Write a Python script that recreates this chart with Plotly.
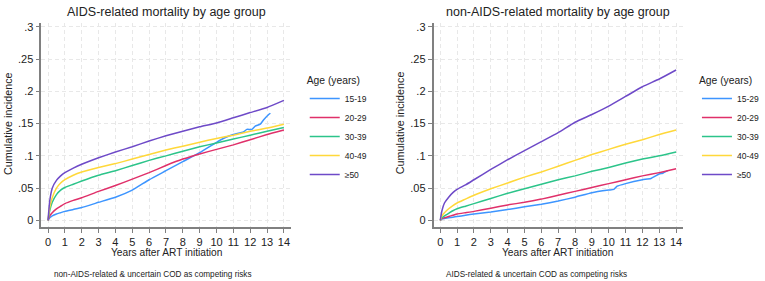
import plotly.graph_objects as go

# ---------------- data ----------------
age_left = ["15-19", "20-29", "30-39", "40-49", "≥50"]
age_right = ["15-29", "20-29", "30-39", "40-49", "≥50"]

years_std = [0, 0.1, 0.25, 0.5, 0.75, 1, 1.5, 2, 3, 4, 5, 6, 7, 8, 9, 10, 11, 12, 13, 14]

# AIDS-related mortality (left)
years_l_1519 = [0, 0.1, 0.25, 0.5, 0.75, 1, 1.5, 2, 3, 4, 5, 6, 7, 8, 9, 10, 10.5, 11,
                11.6, 11.8, 12.1, 12.3, 12.6, 12.8, 13.1, 13.2]
cif_l_1519 = [0, 0.004, 0.007, 0.010, 0.012, 0.014, 0.017, 0.020, 0.028, 0.036, 0.047,
              0.063, 0.077, 0.091, 0.105, 0.121, 0.128, 0.133, 0.137, 0.141, 0.141,
              0.146, 0.149, 0.156, 0.164, 0.166]
cif_l_2029 = [0, 0.007, 0.012, 0.018, 0.022, 0.026, 0.031, 0.035, 0.045, 0.054, 0.064,
              0.074, 0.085, 0.095, 0.103, 0.110, 0.117, 0.125, 0.133, 0.140]
cif_l_3039 = [0, 0.015, 0.028, 0.040, 0.047, 0.051, 0.056, 0.061, 0.070, 0.077, 0.085,
              0.093, 0.100, 0.107, 0.114, 0.120, 0.126, 0.132, 0.138, 0.144]
cif_l_4049 = [0, 0.020, 0.035, 0.050, 0.058, 0.063, 0.070, 0.075, 0.082, 0.088, 0.095,
              0.102, 0.109, 0.115, 0.121, 0.127, 0.132, 0.138, 0.143, 0.149]
cif_l_50 = [0, 0.030, 0.050, 0.062, 0.069, 0.074, 0.081, 0.087, 0.097, 0.106, 0.114,
            0.123, 0.131, 0.138, 0.145, 0.151, 0.159, 0.167, 0.175, 0.186]

# non-AIDS-related mortality (right)
years_r_1529 = [0, 0.1, 0.25, 0.5, 0.75, 1, 1.5, 2, 3, 4, 5, 6, 7, 8, 9, 10, 10.3, 10.5,
                11, 12, 12.5, 13, 13.2, 13.5]
cif_r_1529 = [0, 0.002, 0.003, 0.004, 0.005, 0.006, 0.008, 0.010, 0.013, 0.017, 0.021,
              0.025, 0.030, 0.036, 0.043, 0.047, 0.048, 0.053, 0.057, 0.063, 0.065,
              0.072, 0.073, 0.077]
cif_r_2029 = [0, 0.003, 0.004, 0.006, 0.008, 0.010, 0.012, 0.014, 0.019, 0.024, 0.028,
              0.033, 0.039, 0.045, 0.051, 0.057, 0.063, 0.069, 0.074, 0.080]
cif_r_3039 = [0, 0.004, 0.007, 0.011, 0.015, 0.018, 0.022, 0.026, 0.034, 0.042, 0.049,
              0.056, 0.063, 0.069, 0.076, 0.082, 0.089, 0.095, 0.100, 0.106]
cif_r_4049 = [0, 0.007, 0.012, 0.018, 0.023, 0.027, 0.033, 0.039, 0.049, 0.058, 0.067,
              0.075, 0.084, 0.093, 0.102, 0.110, 0.118, 0.125, 0.133, 0.140]
cif_r_50 = [0, 0.015, 0.027, 0.036, 0.043, 0.048, 0.055, 0.063, 0.079, 0.094, 0.108,
            0.122, 0.136, 0.152, 0.164, 0.177, 0.192, 0.207, 0.219, 0.233]

x_ticks = list(range(0, 15))
y_tickvals = [0, 0.05, 0.1, 0.15, 0.2, 0.25, 0.3]
y_ticktext = ["0", ".05", ".1", ".15", ".2", ".25", ".3"]

titles = ["AIDS-related mortality by age group", "non-AIDS-related mortality by age group"]
captions = ["non-AIDS-related & uncertain COD as competing risks",
            "AIDS-related & uncertain COD as competing risks"]
x_title = "Years after ART initiation"
y_title = "Cumulative incidence"
legend_title = "Age (years)"

colors = ["#3d95ff", "#e0306a", "#2cc48a", "#ffd83a", "#6e4ac8"]

FONT = "Liberation Sans, Arial, Helvetica, sans-serif"

left_series = [(years_l_1519, cif_l_1519), (years_std, cif_l_2029), (years_std, cif_l_3039),
               (years_std, cif_l_4049), (years_std, cif_l_50)]
right_series = [(years_r_1529, cif_r_1529), (years_std, cif_r_2029), (years_std, cif_r_3039),
                (years_std, cif_r_4049), (years_std, cif_r_50)]

fig = go.Figure()
for i, (xs, ys) in enumerate(left_series):
    fig.add_trace(go.Scatter(x=xs, y=ys, mode="lines", name=age_left[i],
                             line=dict(color=colors[i], width=1.5, shape="spline", smoothing=0.4),
                             xaxis="x", yaxis="y", legend="legend"))
for i, (xs, ys) in enumerate(right_series):
    fig.add_trace(go.Scatter(x=xs, y=ys, mode="lines", name=age_right[i],
                             line=dict(color=colors[i], width=1.5, shape="spline", smoothing=0.4),
                             xaxis="x2", yaxis="y2", legend="legend2"))

W, H = 765, 281
x_range = [-0.4, 14.42]
y_range = [-0.0108, 0.306]

axis_common = dict(showline=True, linecolor="#808080", linewidth=1.5,
                   ticks="outside", ticklen=4, tickwidth=1, tickcolor="#808080",
                   showgrid=True, gridcolor="#e8e8e8", gridwidth=1, griddash="4px,3px",
                   zeroline=False, tickfont=dict(family=FONT, size=11, color="#222"))

dom_l = [42 / W, 296 / W]
dom_r = [441 / W, 695 / W]
dom_y = [1 - 227 / H, 1 - 21 / H]

fig.update_layout(
    width=W, height=H, margin=dict(l=0, r=0, t=0, b=0),
    paper_bgcolor="white", plot_bgcolor="white",
    font=dict(family=FONT, color="#222"),
    xaxis=dict(domain=dom_l, range=x_range, tickvals=x_ticks, anchor="y", **axis_common),
    yaxis=dict(domain=dom_y, range=y_range, tickvals=y_tickvals, ticktext=y_ticktext,
               anchor="x", **axis_common),
    xaxis2=dict(domain=dom_r, range=x_range, tickvals=x_ticks, anchor="y2", **axis_common),
    yaxis2=dict(domain=dom_y, range=y_range, tickvals=y_tickvals, ticktext=y_ticktext,
                anchor="x2", **axis_common),
    legend=dict(x=310 / W, y=1 - 69 / H, xanchor="left", yanchor="top",
                title=dict(text=legend_title, font=dict(size=10.3)),
                font=dict(size=8.5), bgcolor="rgba(0,0,0,0)", itemwidth=30,
                tracegroupgap=0),
    legend2=dict(x=709 / W, y=1 - 69 / H, xanchor="left", yanchor="top",
                 title=dict(text=legend_title, font=dict(size=10.3)),
                 font=dict(size=8.5), bgcolor="rgba(0,0,0,0)", itemwidth=30,
                 tracegroupgap=0),
)

centers = [169, 567.5]
ytitle_x = [8, 407]
for k in range(2):
    fig.add_annotation(text=titles[k], xref="paper", yref="paper", x=centers[k] / W,
                       y=1 - 10 / H, xanchor="center", yanchor="middle", showarrow=False,
                       font=dict(size=12.5, color="#222"))
    fig.add_annotation(text=x_title, xref="paper", yref="paper", x=centers[k] / W,
                       y=1 - 252 / H, xanchor="center", yanchor="middle", showarrow=False,
                       font=dict(size=10.2, color="#222"))
    fig.add_annotation(text=y_title, xref="paper", yref="paper", x=ytitle_x[k] / W,
                       y=1 - 122 / H, xanchor="center", yanchor="middle", showarrow=False,
                       textangle=-90, font=dict(size=10.8, color="#222"))
fig.add_annotation(text=captions[0], xref="paper", yref="paper", x=53 / W, y=1 - 274 / H,
                   xanchor="left", yanchor="middle", showarrow=False,
                   font=dict(size=8.2, color="#222"))
fig.add_annotation(text=captions[1], xref="paper", yref="paper", x=452 / W, y=1 - 274 / H,
                   xanchor="left", yanchor="middle", showarrow=False,
                   font=dict(size=8.2, color="#222"))

fig.write_html("out.html")
